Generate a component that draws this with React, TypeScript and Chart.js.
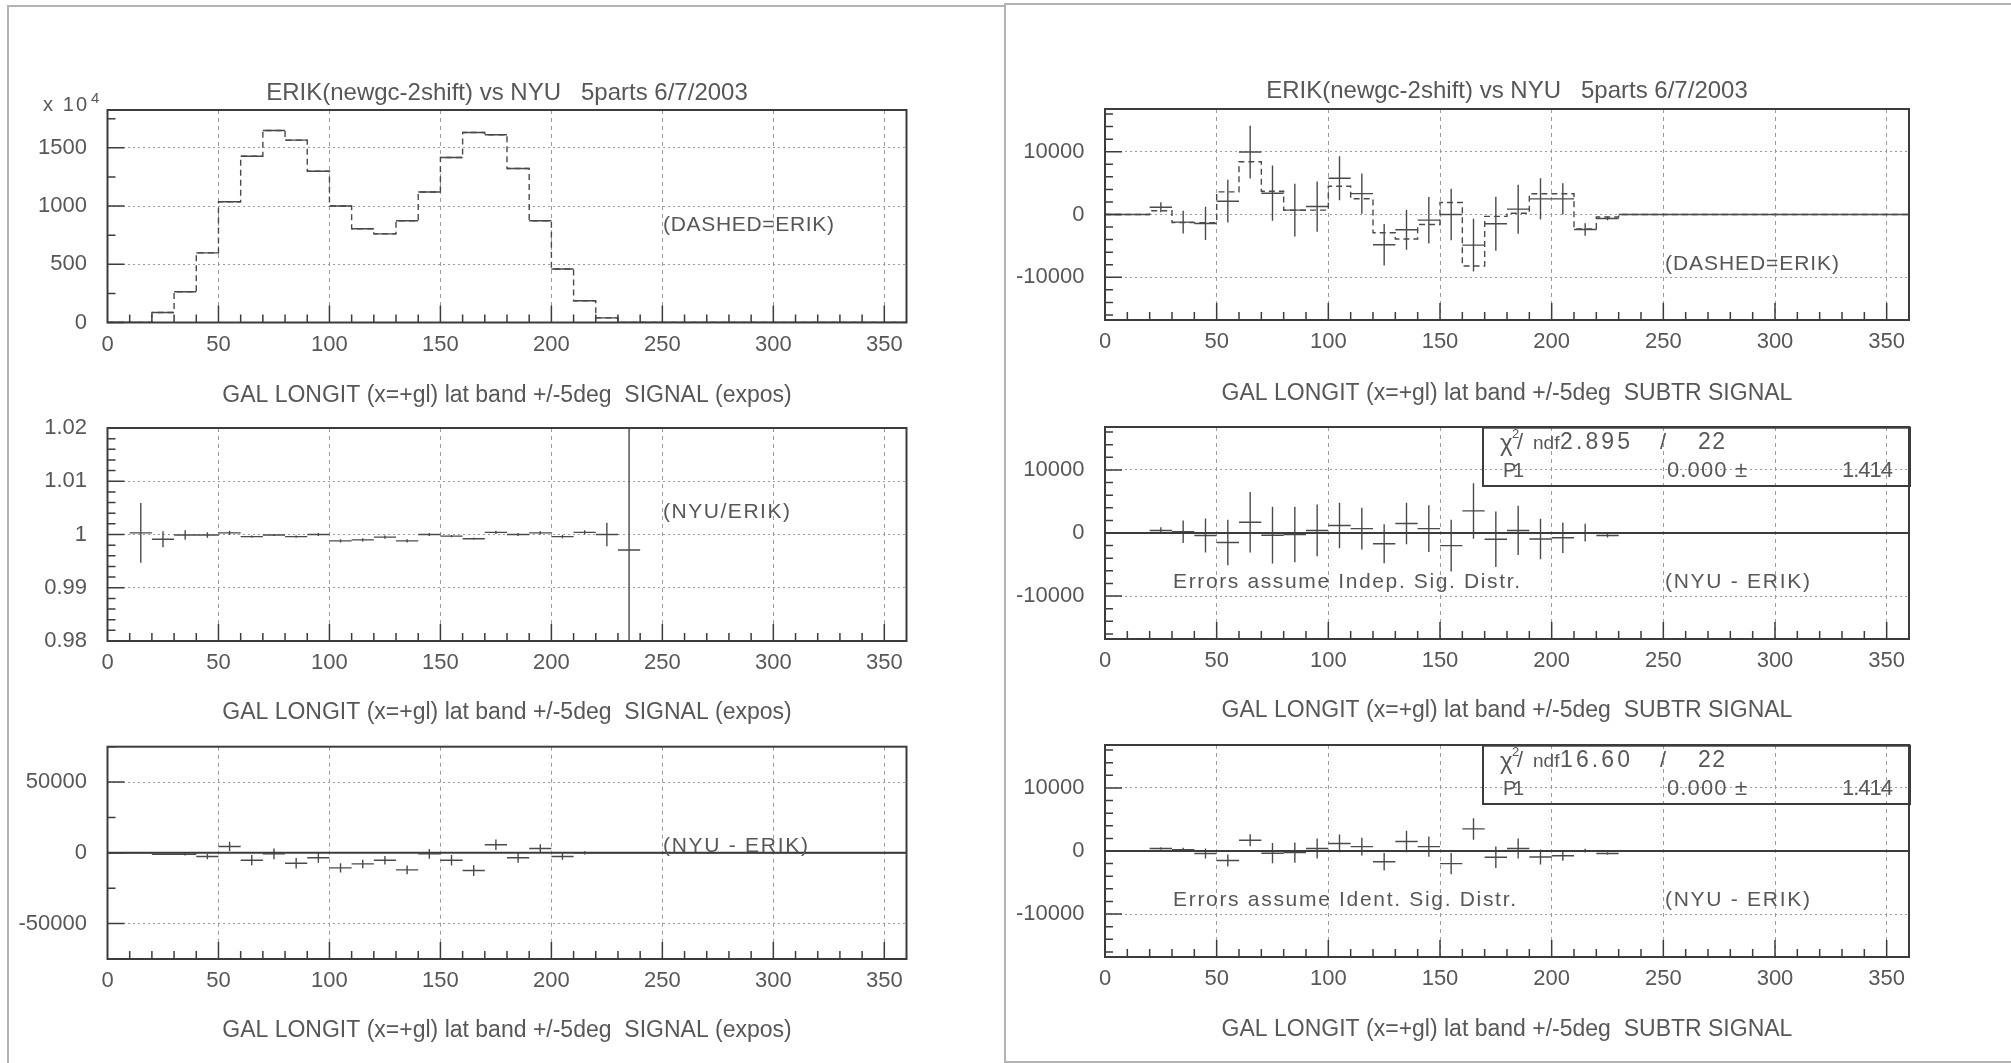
import React, { useEffect, useRef } from 'react';
import { Chart, registerables } from 'chart.js';

Chart.register(...registerables);

const FONT = '"Liberation Sans", Arial, Helvetica, sans-serif';
const TEXT = '#575757';
const DATA_INK = '#4a4a4a';
const FRAME = '#3c3c3c';
const GRID = '#9c9c9c';
const PAGE = '#b4b4b4';

// ---------------- data ----------------
const binCenters = [5, 15, 25, 35, 45, 55, 65, 75, 85, 95, 105, 115, 125, 135, 145, 155, 165, 175, 185, 195, 205, 215, 225, 235, 245, 255, 265, 275, 285, 295, 305, 315, 325, 335, 345, 355];
const binWidth = 10;
const xMin = 0;
const xMax = 360;
const xTickStep = 10;
const xTickLabels = ['0', '50', '100', '150', '200', '250', '300', '350'];

const titleText = 'ERIK(newgc-2shift) vs NYU   5parts 6/7/2003';
const xTitleSignal = 'GAL LONGIT (x=+gl) lat band +/-5deg  SIGNAL (expos)';
const xTitleSubtr = 'GAL LONGIT (x=+gl) lat band +/-5deg  SUBTR SIGNAL';

// SIGNAL (expos), units of 10^4
const erikSignal = [0, 0, 86, 264, 598, 1037, 1428, 1649, 1566, 1299, 1000, 805, 761, 874, 1121, 1417, 1632, 1612, 1322, 874, 460, 187, 40, 0, 0, 0, 0, 0, 0, 0, 0, 0, 0, 0, 0, 0];
const nyuSignal = [0, 0, 86, 264, 598, 1037, 1428, 1649, 1566, 1299, 1000, 805, 761, 874, 1121, 1417, 1632, 1612, 1322, 874, 460, 187, 40, 0, 0, 0, 0, 0, 0, 0, 0, 0, 0, 0, 0, 0];

// NYU / ERIK ratio
const ratioNyuErik = [null, 1.0003, 0.9991, 0.9999, 0.9999, 1.0003, 0.9996, 0.9999, 0.9996, 1.0, 0.9988, 0.999, 0.9995, 0.9988, 1.0, 0.9997, 0.9992, 1.0004, 1.0, 1.0003, 0.9996, 1.0004, 1.0, 0.9971, null, null, null, null, null, null, null, null, null, null, null, null];
const ratioErr = [null, 0.0056, 0.0015, 0.0009, 0.0005, 0.0004, 0.0002, 0.0002, 0.0002, 0.0003, 0.0003, 0.0003, 0.0003, 0.0003, 0.0003, 0.0002, 0.0002, 0.0003, 0.0003, 0.0003, 0.0003, 0.0004, 0.0022, 0.05, null, null, null, null, null, null, null, null, null, null, null, null];

// NYU - ERIK (signal)
const diffSignal = [0, 0, -950, -950, -2600, 4500, -5200, -700, -7300, -3500, -10600, -7800, -5200, -12000, -700, -5200, -12500, 5700, -3500, 3100, -2600, 0, 0, 0, 0, 0, 0, 0, 0, 0, 0, 0, 0, 0, 0, 0];
const diffSignalErr = [0, 0, 500, 1000, 2000, 3300, 3600, 3800, 3700, 3500, 3200, 3000, 3000, 3100, 3500, 3700, 3800, 3700, 3500, 3000, 2300, 1200, 300, 0, 0, 0, 0, 0, 0, 0, 0, 0, 0, 0, 0, 0];

// SUBTR SIGNAL
const nyuSubtr = [0, 0, 1160, -1220, -1430, 2120, 9950, 3390, 690, 1270, 5770, 3330, -4810, -2430, -900, 0, -4870, -1480, 850, 2490, 2490, -2380, -630, 0, 0, 0, 0, 0, 0, 0, 0, 0, 0, 0, 0, 0];
const nyuSubtrErr = [0, 0, 800, 1800, 2650, 3400, 4200, 4400, 4200, 4000, 3500, 3200, 3300, 3200, 3700, 4100, 4200, 4300, 3900, 3300, 2500, 1000, 300, 0, 0, 0, 0, 0, 0, 0, 0, 0, 0, 0, 0, 0];
const erikSubtr = [0, 0, 600, -1300, -1300, 3600, 8400, 3700, 700, 700, 4500, 2500, -2900, -3900, -1600, 1900, -8200, -300, 200, 3300, 3300, -2300, -400, 0, 0, 0, 0, 0, 0, 0, 0, 0, 0, 0, 0, 0];

// NYU - ERIK (subtr signal)
const diffSubtr = [0, 0, 400, 200, -400, -1500, 1700, -350, -250, 400, 1200, 700, -1700, 1500, 700, -2000, 3500, -1000, 400, -950, -750, 50, -400, 0, 0, 0, 0, 0, 0, 0, 0, 0, 0, 0, 0, 0];
const diffErrIndep = [0, 0, 500, 1800, 2700, 3600, 4800, 4500, 4400, 4100, 3600, 3300, 3100, 3300, 3700, 4100, 4400, 4400, 3900, 3200, 2400, 1400, 300, 0, 0, 0, 0, 0, 0, 0, 0, 0, 0, 0, 0, 0];
const diffErrIdent = [0, 0, 200, 300, 800, 950, 950, 1600, 1600, 1600, 1400, 1400, 1400, 1700, 1600, 1700, 1700, 1700, 1600, 1200, 800, 300, 200, 0, 0, 0, 0, 0, 0, 0, 0, 0, 0, 0, 0, 0];

// constant fits (P1)
const fitNdf = '22';
const chi2Indep = '2.895';
const chi2Ident = '16.60';
const fitP1 = 0.0;
const fitP1Text = '0.000';
const fitP1Err = '1.414';

// ---------------- helpers ----------------
type Pt = { x: number; y: number | null };

function histogramPoints(values: number[]): Pt[] {
  const pts: Pt[] = values.map((v, i) => ({ x: binCenters[i] - binWidth / 2, y: v }));
  pts.push({ x: binCenters[binCenters.length - 1] + binWidth / 2, y: values[values.length - 1] });
  return pts;
}

function crossPoints(values: (number | null)[], errors: (number | null)[] | null): Pt[] {
  const pts: Pt[] = [];
  values.forEach((v, i) => {
    if (v == null) return;
    const c = binCenters[i];
    pts.push({ x: c - binWidth / 2, y: v }, { x: c + binWidth / 2, y: v }, { x: c + binWidth / 2, y: null });
    const e = errors ? errors[i] : 0;
    if (e) pts.push({ x: c, y: v - e }, { x: c, y: v + e }, { x: c, y: null });
  });
  return pts;
}

const crossSet = (values: (number | null)[], errors: (number | null)[] | null) => ({
  data: crossPoints(values, errors),
  borderColor: DATA_INK,
  borderWidth: 1.4,
  pointRadius: 0,
  fill: false,
  tension: 0,
  spanGaps: false,
});

const dashedHist = (values: number[]) => ({
  data: histogramPoints(values),
  stepped: 'before',
  borderDash: [6, 4],
  borderColor: DATA_INK,
  borderWidth: 1.4,
  pointRadius: 0,
  fill: false,
});

const fitLine = (p1: number) => ({
  data: [{ x: xMin, y: p1 }, { x: xMax, y: p1 }],
  borderColor: FRAME,
  borderWidth: 2,
  pointRadius: 0,
  fill: false,
});

const isMult = (v: number, step: number) => Math.abs(v / step - Math.round(v / step)) < 1e-6;

function stepTicks(min: number, max: number, step: number) {
  const out: { value: number }[] = [];
  const k0 = Math.ceil(min / step - 1e-9);
  const k1 = Math.floor(max / step + 1e-9);
  for (let k = k0; k <= k1; k++) out.push({ value: parseFloat((k * step).toFixed(10)) });
  return out;
}

function fitText(ctx: CanvasRenderingContext2D, text: string, x: number, y: number, width: number, size: number) {
  ctx.font = `${size}px ${FONT}`;
  (ctx as any).letterSpacing = '0px';
  const w = ctx.measureText(text).width;
  const n = text.length;
  const ls = n > 1 ? (width - w) / (n - 1) : 0;
  (ctx as any).letterSpacing = `${ls}px`;
  ctx.textAlign = 'left';
  ctx.textBaseline = 'middle';
  ctx.fillText(text, x, y);
  (ctx as any).letterSpacing = '0px';
}

type Annot = { text: string; dx: number; dy: number; w: number };
type FitBox = { chi2: string };

interface PanelSpec {
  id: string;
  canvas: { left: number; top: number; width: number; height: number };
  plot: { left: number; top: number; right: number; bottom: number };
  titleCenterY: number | null;
  yMin: number;
  yMax: number;
  yMinor: number;
  yMajor: number;
  yLabel: (v: number) => string;
  xTitle: string;
  datasets: any[];
  annots: Annot[];
  fit: FitBox | null;
  exponent: string | null;
}

const intLabel = (v: number) => String(Math.round(v));
const ratioLabel = (v: number) => String(parseFloat(v.toFixed(2)));

const LEFT_X = { left: 107.5, right: 906.5 };
const RIGHT_X = { left: 1105, right: 1909 };

const panels: PanelSpec[] = [
  {
    id: 'L1',
    canvas: { left: 0, top: 10, width: 1003, height: 399 },
    plot: { ...LEFT_X, top: 110, bottom: 322.5 },
    titleCenterY: 93,
    yMin: 0, yMax: 1825, yMinor: 250, yMajor: 500, yLabel: intLabel,
    xTitle: xTitleSignal,
    datasets: [dashedHist(erikSignal), crossSet(nyuSignal, null)],
    annots: [{ text: '(DASHED=ERIK)', dx: 555.5, dy: 115, w: 171 }],
    fit: null,
    exponent: '4',
  },
  {
    id: 'L2',
    canvas: { left: 0, top: 410, width: 1003, height: 316 },
    plot: { ...LEFT_X, top: 428, bottom: 641 },
    titleCenterY: null,
    yMin: 0.98, yMax: 1.02, yMinor: 0.002, yMajor: 0.01, yLabel: ratioLabel,
    xTitle: xTitleSignal,
    datasets: [crossSet(ratioNyuErik, ratioErr)],
    annots: [{ text: '(NYU/ERIK)', dx: 555.5, dy: 84.7, w: 127 }],
    fit: null,
    exponent: null,
  },
  {
    id: 'L3',
    canvas: { left: 0, top: 728, width: 1003, height: 316 },
    plot: { ...LEFT_X, top: 746.7, bottom: 959 },
    titleCenterY: null,
    yMin: -75000, yMax: 75000, yMinor: 25000, yMajor: 50000, yLabel: intLabel,
    xTitle: xTitleSignal,
    datasets: [fitLine(fitP1), crossSet(diffSignal, diffSignalErr)],
    annots: [{ text: '(NYU - ERIK)', dx: 555.5, dy: 99.3, w: 145 }],
    fit: null,
    exponent: null,
  },
  {
    id: 'R1',
    canvas: { left: 1006, top: 10, width: 1005, height: 397 },
    plot: { ...RIGHT_X, top: 109, bottom: 320 },
    titleCenterY: 91.7,
    yMin: -16800, yMax: 16800, yMinor: 2000, yMajor: 10000, yLabel: intLabel,
    xTitle: xTitleSubtr,
    datasets: [dashedHist(erikSubtr), crossSet(nyuSubtr, nyuSubtrErr)],
    annots: [{ text: '(DASHED=ERIK)', dx: 560, dy: 155, w: 174 }],
    fit: null,
    exponent: null,
  },
  {
    id: 'R2',
    canvas: { left: 1006, top: 408, width: 1005, height: 316 },
    plot: { ...RIGHT_X, top: 427, bottom: 639 },
    titleCenterY: null,
    yMin: -16800, yMax: 16800, yMinor: 2000, yMajor: 10000, yLabel: intLabel,
    xTitle: xTitleSubtr,
    datasets: [fitLine(fitP1), crossSet(diffSubtr, diffErrIndep)],
    annots: [
      { text: 'Errors assume Indep. Sig. Distr.', dx: 68, dy: 155.7, w: 347 },
      { text: '(NYU - ERIK)', dx: 560, dy: 155.7, w: 145 },
    ],
    fit: { chi2: chi2Indep },
    exponent: null,
  },
  {
    id: 'R3',
    canvas: { left: 1006, top: 726, width: 1005, height: 317 },
    plot: { ...RIGHT_X, top: 745, bottom: 957 },
    titleCenterY: null,
    yMin: -16800, yMax: 16800, yMinor: 2000, yMajor: 10000, yLabel: intLabel,
    xTitle: xTitleSubtr,
    datasets: [fitLine(fitP1), crossSet(diffSubtr, diffErrIdent)],
    annots: [
      { text: 'Errors assume Ident. Sig. Distr.', dx: 68, dy: 155, w: 343 },
      { text: '(NYU - ERIK)', dx: 560, dy: 155, w: 145 },
    ],
    fit: { chi2: chi2Ident },
    exponent: null,
  },
];

function decorPlugin(p: PanelSpec) {
  return {
    id: 'decor' + p.id,
    afterDraw(chart: any) {
      const { ctx, chartArea: a } = chart;
      const xs = chart.scales.x;
      const ys = chart.scales.y;
      ctx.save();
      ctx.setLineDash([]);
      // frame
      ctx.strokeStyle = FRAME;
      ctx.lineWidth = 2;
      ctx.strokeRect(a.left, a.top, a.right - a.left, a.bottom - a.top);
      // inside ticks
      ctx.lineWidth = 1.5;
      ctx.beginPath();
      xs.ticks.forEach((t: any) => {
        if (t.value <= xMin || t.value >= xMax) return;
        const px = xs.getPixelForValue(t.value);
        const len = isMult(t.value, 50) ? 17 : 8;
        ctx.moveTo(px, a.bottom);
        ctx.lineTo(px, a.bottom - len);
      });
      ys.ticks.forEach((t: any) => {
        const py = ys.getPixelForValue(t.value);
        const len = isMult(t.value, p.yMajor) ? 17 : 8;
        ctx.moveTo(a.left, py);
        ctx.lineTo(a.left + len, py);
      });
      ctx.stroke();
      // annotations
      ctx.fillStyle = TEXT;
      p.annots.forEach((an) => fitText(ctx, an.text, a.left + an.dx, a.top + an.dy, an.w, 21));
      if (p.exponent) {
        fitText(ctx, 'x 10', a.left - 64.5, a.top - 5, 44, 20);
        ctx.font = `15px ${FONT}`;
        ctx.textBaseline = 'alphabetic';
        ctx.fillText(p.exponent, a.left - 16.5, a.top - 7);
      }
      if (p.fit) {
        const bx = a.left + 378;
        const by = a.top + 0.7;
        ctx.strokeStyle = FRAME;
        ctx.lineWidth = 2;
        ctx.strokeRect(bx, by, a.right + 1 - bx, 58.3);
        const r1 = a.top + 16;
        const r2 = a.top + 44;
        ctx.textAlign = 'left';
        ctx.textBaseline = 'middle';
        ctx.font = `24px ${FONT}`;
        ctx.fillText('\u03c7', a.left + 395, r1 + 1);
        ctx.font = `13px ${FONT}`;
        ctx.fillText('2', a.left + 407, r1 - 9);
        ctx.font = `22px ${FONT}`;
        ctx.fillText('/', a.left + 412, r1);
        ctx.font = `19px ${FONT}`;
        ctx.fillText('ndf', a.left + 428, r1 + 1);
        fitText(ctx, p.fit.chi2, a.left + 455, r1, 70, 23);
        fitText(ctx, '/', a.left + 555, r1, 8, 22);
        fitText(ctx, fitNdf, a.left + 593, r1, 27, 23);
        fitText(ctx, 'P1', a.left + 398, r2, 21, 20);
        fitText(ctx, fitP1Text + ' \u00b1', a.left + 562, r2, 80, 22);
        fitText(ctx, fitP1Err, a.left + 737, r2, 51, 22);
      }
      ctx.restore();
    },
  };
}

function buildConfig(p: PanelSpec): any {
  const titleSize = 24;
  const titleLH = titleSize * 1.2;
  const chartTop = p.plot.top - p.canvas.top;
  const padTop = p.titleCenterY != null ? p.titleCenterY - titleLH / 2 - p.canvas.top : chartTop;
  const titlePadBottom = p.titleCenterY != null ? chartTop - padTop - titleLH : 0;
  const tickFont = { family: FONT, size: 22 };
  return {
    type: 'line',
    data: { datasets: p.datasets },
    options: {
      responsive: false,
      animation: false,
      devicePixelRatio: 1,
      events: [],
      layout: {
        padding: { left: 0, right: p.canvas.left + p.canvas.width - p.plot.right, top: padTop, bottom: 0 },
      },
      plugins: {
        legend: { display: false },
        tooltip: { enabled: false },
        title: {
          display: p.titleCenterY != null,
          text: titleText,
          fullSize: false,
          color: TEXT,
          font: { family: FONT, size: titleSize, weight: 'normal' },
          padding: { top: 0, bottom: titlePadBottom },
        },
      },
      scales: {
        x: {
          type: 'linear',
          min: xMin,
          max: xMax,
          afterBuildTicks: (s: any) => {
            s.ticks = stepTicks(xMin, xMax, xTickStep);
          },
          ticks: {
            autoSkip: false,
            maxRotation: 0,
            padding: 9,
            color: TEXT,
            font: tickFont,
            callback: (v: number) => (xTickLabels.includes(String(v)) ? String(v) : ''),
          },
          grid: {
            drawTicks: false,
            lineWidth: 1,
            color: (c: any) =>
              c.tick && isMult(c.tick.value, 50) && c.tick.value > xMin && c.tick.value < xMax ? GRID : 'rgba(0,0,0,0)',
          },
          border: { display: false, dash: [4, 4] },
          title: {
            display: true,
            text: p.xTitle,
            color: TEXT,
            font: { family: FONT, size: 23 },
            padding: { top: 0, bottom: 0 },
          },
          afterFit: (s: any) => {
            s.height = p.canvas.top + p.canvas.height - p.plot.bottom;
            s.paddingLeft = 0;
            s.paddingRight = 0;
          },
        },
        y: {
          type: 'linear',
          min: p.yMin,
          max: p.yMax,
          afterBuildTicks: (s: any) => {
            s.ticks = stepTicks(p.yMin, p.yMax, p.yMinor);
          },
          ticks: {
            autoSkip: false,
            padding: 20.5,
            color: TEXT,
            font: tickFont,
            callback: (v: number) => (isMult(v, p.yMajor) ? p.yLabel(v) : ''),
          },
          grid: {
            drawTicks: false,
            lineWidth: 1,
            color: (c: any) =>
              c.tick && isMult(c.tick.value, p.yMajor) && c.tick.value > p.yMin + 1e-9 && c.tick.value < p.yMax - 1e-9
                ? GRID
                : 'rgba(0,0,0,0)',
          },
          border: { display: false, dash: [2, 3] },
          afterFit: (s: any) => {
            s.width = p.plot.left - p.canvas.left;
            s.paddingTop = 0;
            s.paddingBottom = 0;
          },
        },
      },
    },
    plugins: [decorPlugin(p)],
  };
}

function PanelChart({ panel }: { panel: PanelSpec }) {
  const ref = useRef<HTMLCanvasElement>(null);
  useEffect(() => {
    const chart = new Chart(ref.current as HTMLCanvasElement, buildConfig(panel));
    return () => chart.destroy();
  }, [panel]);
  const c = panel.canvas;
  return (
    <canvas
      ref={ref}
      width={c.width}
      height={c.height}
      style={{ position: 'absolute', left: c.left, top: c.top, width: c.width, height: c.height }}
    />
  );
}

export default function App() {
  return (
    <div style={{ position: 'absolute', left: 0, top: 0, width: 2011, height: 1063, overflow: 'hidden', background: '#fff' }}>
      <div
        style={{
          position: 'absolute', left: 7, top: 5, width: 996, height: 1100,
          borderLeft: `2px solid ${PAGE}`, borderTop: `2px solid ${PAGE}`,
        }}
      />
      <div
        style={{
          position: 'absolute', left: 1004, top: 3, width: 1100, height: 1056,
          borderLeft: `2px solid ${PAGE}`, borderTop: `2px solid ${PAGE}`, borderBottom: `2px solid ${PAGE}`,
        }}
      />
      {panels.map((p) => (
        <PanelChart key={p.id} panel={p} />
      ))}
    </div>
  );
}
